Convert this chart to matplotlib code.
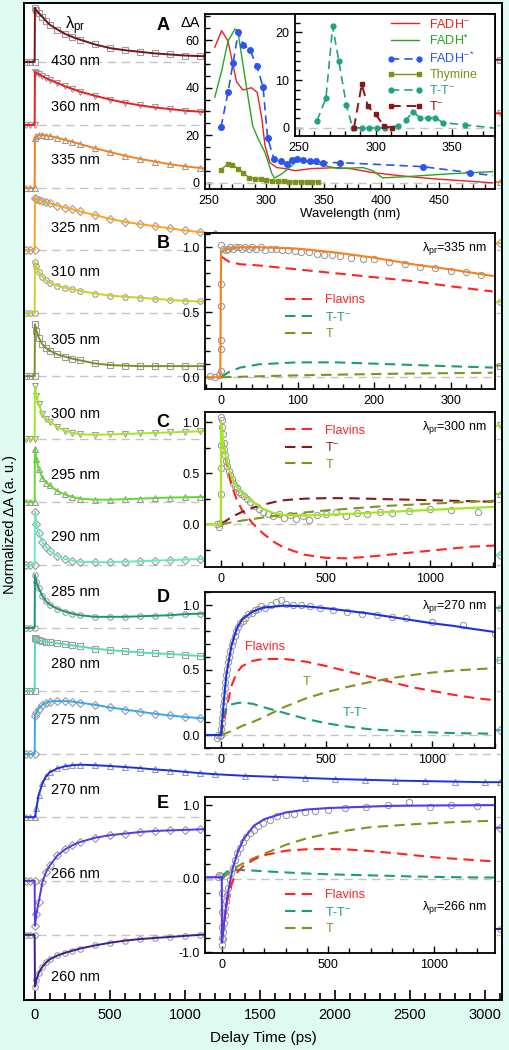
import matplotlib
matplotlib.use('Agg')

import numpy as np
import matplotlib.pyplot as plt
from matplotlib.lines import Line2D
from matplotlib.ticker import MultipleLocator

plt.rcParams['font.family'] = ['Liberation Sans', 'DejaVu Sans']
plt.rcParams['mathtext.fontset'] = 'custom'
plt.rcParams['mathtext.rm'] = 'Liberation Sans'
plt.rcParams['mathtext.it'] = 'Liberation Sans:italic'
plt.rcParams['mathtext.bf'] = 'Liberation Sans:bold'
plt.rcParams['axes.unicode_minus'] = False

# ---- main panel: normalized kinetic traces (fit values on a shared time grid)
t_main = [-60, -30, -2, 0, 10, 25, 50, 75, 100, 150, 200, 250, 300, 400, 500, 600,
          700, 800, 900, 1000, 1100, 1200, 1400, 1600, 1800, 2000, 2200, 2400,
          2600, 2800, 3000, 3100]
tr430 = [0, 0, 0, 1.02, 0.97, 0.92, 0.85, 0.77, 0.70, 0.61, 0.53, 0.47, 0.42, 0.33, 0.26,
         0.22, 0.19, 0.16, 0.14, 0.12, 0.11, 0.10, 0.09, 0.08, 0.07, 0.06, 0.06, 0.05,
         0.05, 0.04, 0.04, 0.04]
tr360 = [0, 0, 0, 1.0, 0.98, 0.96, 0.92, 0.88, 0.85, 0.79, 0.73, 0.68, 0.63, 0.55, 0.48,
         0.42, 0.37, 0.33, 0.30, 0.27, 0.25, 0.24, 0.23, 0.22, 0.22, 0.22, 0.22, 0.22,
         0.22, 0.22, 0.22, 0.22]
tr335 = [0, 0, 0, 0.95, 0.98, 1.0, 1.0, 0.99, 0.98, 0.95, 0.91, 0.87, 0.83, 0.75, 0.68,
         0.61, 0.55, 0.50, 0.45, 0.41, 0.38, 0.35, 0.30, 0.25, 0.22, 0.19, 0.17, 0.15,
         0.14, 0.13, 0.12, 0.11]
tr325 = [0, 0, 0, 0.98, 0.97, 0.95, 0.93, 0.90, 0.88, 0.84, 0.80, 0.77, 0.73, 0.66, 0.59,
         0.53, 0.49, 0.45, 0.41, 0.37, 0.34, 0.31, 0.27, 0.23, 0.20, 0.18, 0.16, 0.15,
         0.14, 0.13, 0.13, 0.13]
tr310 = [0, 0, 0, 0.96, 0.88, 0.78, 0.68, 0.62, 0.57, 0.52, 0.48, 0.45, 0.42, 0.37, 0.33,
         0.31, 0.29, 0.27, 0.25, 0.23, 0.22, 0.215, 0.21, 0.21, 0.21, 0.21, 0.21, 0.21,
         0.21, 0.21, 0.21, 0.21]
tr305 = [0, 0, 0, 0.98, 0.86, 0.73, 0.60, 0.53, 0.48, 0.41, 0.37, 0.33, 0.30, 0.24, 0.21,
         0.20, 0.19, 0.19, 0.19, 0.19, 0.19, 0.19, 0.19, 0.2, 0.2, 0.2, 0.2, 0.2,
         0.2, 0.2, 0.2, 0.2]
tr300 = [0, 0, 0, 1.0, 0.82, 0.66, 0.48, 0.39, 0.33, 0.23, 0.16, 0.12, 0.095, 0.085, 0.09,
         0.10, 0.11, 0.12, 0.13, 0.14, 0.15, 0.16, 0.17, 0.19, 0.20, 0.21, 0.22, 0.23,
         0.24, 0.25, 0.25, 0.26]
tr295 = [0, 0, 0, 1.0, 0.80, 0.62, 0.45, 0.36, 0.31, 0.20, 0.14, 0.09, 0.06, 0.04, 0.04,
         0.05, 0.06, 0.07, 0.08, 0.085, 0.09, 0.095, 0.10, 0.11, 0.12, 0.12, 0.13, 0.13,
         0.14, 0.14, 0.15, 0.15]
tr290 = [0, 0, 0, 1.0, 0.78, 0.60, 0.43, 0.33, 0.26, 0.17, 0.11, 0.08, 0.06, 0.05, 0.05,
         0.06, 0.07, 0.08, 0.09, 0.10, 0.11, 0.12, 0.13, 0.14, 0.15, 0.16, 0.17, 0.17,
         0.18, 0.18, 0.19, 0.19]
tr285 = [0, 0, 0, 1.0, 0.86, 0.75, 0.60, 0.50, 0.44, 0.36, 0.31, 0.27, 0.24, 0.21, 0.21,
         0.21, 0.22, 0.23, 0.24, 0.26, 0.27, 0.28, 0.29, 0.31, 0.32, 0.33, 0.34, 0.35,
         0.36, 0.37, 0.38, 0.38]
tr280 = [0, 0, 0, 1.0, 0.98, 0.96, 0.94, 0.93, 0.92, 0.90, 0.88, 0.86, 0.84, 0.80, 0.77,
         0.75, 0.73, 0.71, 0.70, 0.68, 0.66, 0.65, 0.63, 0.62, 0.61, 0.60, 0.60, 0.59,
         0.59, 0.58, 0.58, 0.58]
tr275 = [0, 0, 0, 0.72, 0.78, 0.86, 0.93, 0.97, 0.99, 1.0, 1.0, 0.99, 0.97, 0.93, 0.88,
         0.84, 0.80, 0.76, 0.73, 0.70, 0.68, 0.66, 0.62, 0.58, 0.55, 0.53, 0.51, 0.49,
         0.48, 0.47, 0.46, 0.45]
tr270 = [0, 0, 0, 0.0, 0.17, 0.42, 0.64, 0.77, 0.85, 0.92, 0.96, 0.98, 0.99, 0.98, 0.965,
         0.945, 0.925, 0.90, 0.88, 0.855, 0.83, 0.81, 0.78, 0.76, 0.74, 0.72, 0.705, 0.69,
         0.68, 0.67, 0.66, 0.66]
tr266 = [0, 0, 0, -0.85, -0.62, -0.40, -0.02, 0.17, 0.29, 0.48, 0.59, 0.67, 0.73, 0.81, 0.86,
         0.89, 0.92, 0.94, 0.95, 0.96, 0.97, 0.98, 0.99, 0.99, 1.0, 1.0, 1.0, 1.0,
         1.0, 1.0, 1.0, 1.0]
tr260 = [0, 0, 0, -0.98, -0.85, -0.72, -0.60, -0.52, -0.46, -0.39, -0.34, -0.30, -0.26, -0.20, -0.15,
         -0.11, -0.08, -0.06, -0.04, -0.02, 0.0, 0.01, 0.03, 0.05, 0.06, 0.07, 0.08, 0.09,
         0.10, 0.10, 0.11, 0.11]

probe_labels = ['430 nm', '360 nm', '335 nm', '325 nm', '310 nm', '305 nm', '300 nm', '295 nm',
                '290 nm', '285 nm', '280 nm', '275 nm', '270 nm', '266 nm', '260 nm']
offsets = [17.70, 16.51, 15.32, 14.15, 12.96, 11.77, 10.58, 9.40, 8.21, 7.02, 5.83, 4.64,
           3.45, 2.25, 1.23]
label_dy = [0.02, 0.34, 0.53, 0.42, 0.77, 0.68, 0.47, 0.51, 0.53, 0.68, 0.51, 0.64, 0.51, 0.13, -0.79]
trace_colors = ['#7a1414', '#ee1c1c', '#f7801e', '#ffa21c', '#cfcf22', '#7f8f26', '#a2e81e',
                '#5fdc2a', '#66ecb8', '#16977a', '#52e0a8', '#36a8f2', '#1c30e2', '#5a36e8', '#3e1c8c']
trace_markers = ['s', 'v', '^', 'D', 'o', 's', 'v', '^', 'D', 'o', 's', 'D', '^', 'D', 'o']

# ---- inset A: static spectra
fadhm_wl = [255, 261, 266.5, 274, 279.5, 287, 292, 296, 298.7, 303, 309, 316, 325, 339.5,
            362, 372.6, 392.6, 416, 445, 497]
fadhm = [57, 64, 59.6, 42.5, 39, 40, 38, 27, 15.7, 8.5, 6.4, 6, 5.1, 6, 6.4, 6, 4.3, 3, 1.7, 0]
fadhr_wl = [255, 261, 266.5, 272.6, 275, 279.5, 284, 288, 292.6, 298.7, 304.8, 307, 313.5,
            322, 327, 339.5, 362, 384, 392.6, 401, 422, 459.6, 497]
fadhr = [36, 47, 59.6, 64.7, 64, 50, 36, 24, 18.7, 12.8, 3.8, 2, 3.8, 7.2, 9.4, 8.5, 6,
         6.4, 5.1, 2.1, 2.6, 3.8, 4.7]
fadhx_wl = [260.4, 266.5, 271, 275.5, 280, 285.6, 291.7, 297, 301, 306.5, 312.6, 318, 322,
            327, 332, 338, 343, 349.6, 364, 436, 477, 497]
fadhx = [23.4, 38, 50.6, 63.4, 58, 56, 49, 40.4, 19, 10, 9, 8, 9.8, 10.2, 9.4, 9, 9, 8.5,
         8.5, 6.8, 4.3, 3.0]
thy_wl = [260.4, 266.5, 270, 275, 279.6, 285, 290, 295, 300, 305, 310, 315, 320, 325, 330,
          335, 340, 345]
thy = [5.5, 8, 7.7, 6, 4.3, 2.1, 1.7, 1.7, 1.3, 0.9, 0.7, 0.6, 0.5, 0.5, 0.5, 0.5, 0.5, 0.5]
tt_wl = [261.8, 267.6, 272, 276, 281, 285, 291, 296, 301, 306, 314.7, 320, 324.5, 329, 334,
         339, 344, 358.5, 377]
tt_spec = [1.5, 6.2, 21.2, 14, 4.7, 0, 0, 0, 0, 0, 0.4, 1.7, 3.4, 2.1, 2.1, 2.1, 1.1, 0.6, 0]
tm_wl = [285.9, 291, 295, 300, 305.6, 310.8]
tm_spec = [0, 9.1, 4.5, 2.8, 0.4, 0]

# ---- inset B (335 nm)
tB = [-20, -1, 0, 10, 25, 50, 100, 150, 200, 250, 300, 355]
b_fit = [0, 0, 0.97, 0.99, 1.0, 1.0, 0.99, 0.96, 0.92, 0.87, 0.83, 0.78]
tB_c = [0, 10, 25, 50, 100, 150, 200, 250, 300, 355]
b_flavins = [0.93, 0.89, 0.87, 0.86, 0.83, 0.80, 0.77, 0.74, 0.70, 0.66]
b_tt = [0, 0.04, 0.075, 0.10, 0.115, 0.115, 0.105, 0.095, 0.085, 0.075]
b_t = [0, 0.002, 0.004, 0.008, 0.015, 0.02, 0.025, 0.029, 0.032, 0.035]
b_dt = [-15, -8, -3, 0, 0, 0, 0, 0, 0, 3, 6, 9, 12, 15, 19, 23, 27, 31, 36, 41, 46, 52, 58,
        65, 72, 80, 88, 96, 105, 115, 125, 135, 145, 155, 170, 185, 200, 220, 240, 260, 280,
        300, 320, 340]
b_dv = [0.01, 0.0, 0.02, 0.05, 0.22, 0.29, 0.55, 0.72, 1.02, 0.99, 0.98, 0.99, 1.0, 0.99,
        1.0, 1.0, 0.99, 1.0, 0.99, 1.0, 0.99, 1.0, 0.98, 0.99, 0.99, 0.98, 0.98, 0.97, 0.96,
        0.96, 0.95, 0.94, 0.94, 0.93, 0.92, 0.91, 0.91, 0.89, 0.87, 0.85, 0.84, 0.82, 0.81, 0.79]

# ---- inset C (300 nm)
tC = [-70, -1, 0, 10, 25, 50, 75, 100, 150, 200, 250, 300, 400, 500, 600, 700, 800, 900,
      1000, 1100, 1200, 1310]
c_fit = [0, 0, 1.0, 0.80, 0.64, 0.46, 0.37, 0.31, 0.22, 0.15, 0.11, 0.09, 0.085, 0.09, 0.10,
         0.11, 0.12, 0.13, 0.14, 0.15, 0.16, 0.17]
tC_c = [0, 10, 25, 50, 75, 100, 150, 200, 250, 300, 400, 500, 600, 700, 800, 900, 1000,
        1100, 1200, 1310]
c_flavins = [0.98, 0.82, 0.62, 0.38, 0.24, 0.14, 0.01, -0.09, -0.17, -0.23, -0.30, -0.33,
             -0.335, -0.32, -0.30, -0.28, -0.26, -0.24, -0.22, -0.21]
c_tminus = [0, 0.015, 0.035, 0.07, 0.095, 0.12, 0.16, 0.19, 0.215, 0.235, 0.25, 0.255, 0.255,
            0.25, 0.245, 0.24, 0.235, 0.23, 0.225, 0.22]
c_t = [0, 0.004, 0.009, 0.018, 0.026, 0.035, 0.05, 0.065, 0.078, 0.09, 0.115, 0.135, 0.15,
       0.165, 0.18, 0.19, 0.20, 0.21, 0.22, 0.23]
c_dt = [-20, -12, -5, 0, 0, 0, 0, 2, 5, 8, 12, 16, 20, 25, 30, 36, 42, 50, 58, 66, 75, 85, 95,
        110, 125, 140, 160, 180, 200, 225, 250, 275, 300, 330, 360, 390, 420, 460, 500, 550,
        600, 650, 700, 760, 820, 900, 1000, 1100, 1230]
c_dv = [0.0, -0.03, 0.01, 0.3, 0.55, 0.78, 1.05, 1.02, 0.95, 0.88, 0.8, 0.74, 0.68, 0.62, 0.57,
        0.52, 0.48, 0.44, 0.4, 0.37, 0.35, 0.32, 0.3, 0.28, 0.25, 0.22, 0.18, 0.15, 0.12, 0.1,
        0.08, 0.1, 0.06, 0.09, 0.05, 0.08, 0.04, 0.09, 0.1, 0.12, 0.08, 0.11, 0.1, 0.12, 0.11,
        0.13, 0.15, 0.14, 0.12]

# ---- inset D (270 nm)
tD = [-70, -1, 0, 10, 25, 50, 75, 100, 150, 200, 300, 400, 500, 600, 700, 800, 900, 1000,
      1100, 1200, 1310]
d_fit = [0, 0, 0, 0.2, 0.46, 0.69, 0.82, 0.89, 0.95, 0.98, 0.995, 0.99, 0.975, 0.955, 0.935,
         0.91, 0.885, 0.86, 0.84, 0.815, 0.79]
tD_c = [0, 10, 25, 50, 75, 100, 150, 200, 300, 400, 500, 600, 700, 800, 900, 1000, 1100,
        1200, 1310]
d_flavins = [0, 0.09, 0.2, 0.38, 0.48, 0.53, 0.57, 0.585, 0.585, 0.565, 0.53, 0.49, 0.45,
             0.41, 0.37, 0.34, 0.31, 0.285, 0.265]
d_t = [0, 0.005, 0.015, 0.03, 0.05, 0.07, 0.1, 0.135, 0.215, 0.28, 0.33, 0.37, 0.405, 0.435,
       0.46, 0.48, 0.495, 0.505, 0.515]
d_tt = [0, 0.15, 0.2, 0.235, 0.245, 0.25, 0.24, 0.215, 0.17, 0.125, 0.09, 0.065, 0.045,
        0.035, 0.025, 0.02, 0.015, 0.012, 0.01]
d_dt = [-20, -12, -5, 0, 2, 4, 6, 8, 10, 12, 15, 18, 21, 25, 29, 33, 38, 44, 50, 57, 65, 73,
        82, 92, 102, 115, 130, 145, 160, 175, 190, 210, 235, 260, 285, 310, 340, 380, 420,
        470, 530, 600, 670, 740, 810, 880, 1000, 1150, 1300]
d_dv = [-0.02, 0.0, -0.01, 0.0, 0.05, 0.09, 0.13, 0.18, 0.22, 0.26, 0.31, 0.36, 0.41, 0.46,
        0.51, 0.56, 0.6, 0.65, 0.69, 0.72, 0.76, 0.8, 0.83, 0.86, 0.88, 0.9, 0.93, 0.94, 0.96,
        0.97, 0.99, 0.98, 1.0, 1.02, 1.04, 1.01, 1.0, 1.0, 0.99, 0.98, 0.96, 0.95, 0.93, 0.92,
        0.91, 0.9, 0.87, 0.85, 0.78]

# ---- inset E (266 nm)
tE = [-70, -1, 0, 5, 10, 25, 50, 75, 100, 150, 200, 300, 400, 500, 600, 700, 800, 1000, 1310]
e_fit = [0.02, 0.02, -0.87, -0.75, -0.6, -0.24, 0.14, 0.37, 0.53, 0.72, 0.81, 0.90, 0.94,
         0.96, 0.97, 0.98, 0.99, 0.995, 1.0]
tE_c = [0, 10, 25, 50, 75, 100, 150, 200, 300, 400, 500, 600, 700, 800, 900, 1000, 1100,
        1200, 1310]
e_flavins = [-0.8, -0.6, -0.3, -0.03, 0.1, 0.17, 0.26, 0.32, 0.38, 0.40, 0.405, 0.395, 0.375,
             0.35, 0.32, 0.29, 0.27, 0.25, 0.23]
e_t = [0, 0.03, 0.06, 0.12, 0.17, 0.21, 0.28, 0.34, 0.46, 0.55, 0.61, 0.66, 0.70, 0.72, 0.74,
       0.755, 0.77, 0.78, 0.79]
e_tt = [0, 0.06, 0.10, 0.12, 0.12, 0.115, 0.11, 0.10, 0.085, 0.07, 0.06, 0.052, 0.045, 0.038,
        0.03, 0.025, 0.02, 0.017, 0.015]
e_dt = [-20, -12, -5, 0, 0, 0, 0, 2, 4, 6, 9, 12, 16, 20, 25, 30, 36, 43, 50, 60, 72, 85, 100,
        115, 130, 150, 170, 195, 225, 260, 300, 340, 390, 440, 500, 580, 680, 780, 880, 980,
        1080, 1200]
e_dv = [0.02, 0.05, 0.04, -0.2, -0.45, -0.65, -0.8, -0.9, -0.82, -0.72, -0.6, -0.5, -0.4, -0.3,
        -0.22, -0.12, -0.02, 0.08, 0.15, 0.25, 0.35, 0.42, 0.5, 0.57, 0.62, 0.66, 0.72, 0.76,
        0.8, 0.85, 0.87, 0.88, 0.91, 0.92, 0.94, 0.96, 0.97, 1.0, 1.04, 0.98, 1.0, 0.99]

# colors for components
C_RED = '#ff2424'
C_TEAL = '#1c9c7c'
C_OLIVE = '#84921c'
C_DRED = '#861a1a'
GRAY = '#9c9c9c'
ZERO = '#c4c4c4'
DASH = (0, (5, 3))
LPR = r'λ$_{\rm pr}$'

W, H = 510, 1050
fig = plt.figure(figsize=(W / 100, H / 100), dpi=100, facecolor='#dffaf0')


def frac(x0, y0, x1, y1):
    """pixel box -> figure fraction rect"""
    return [x0 / W, 1 - y1 / H, (x1 - x0) / W, (y1 - y0) / H]


# ---------------- main axes
ax = fig.add_axes(frac(24, 3, 502, 1000))
ax.set_xlim(-73, 3113)
ax.set_ylim(0, 997 / 53)
for sp in ax.spines.values():
    sp.set_linewidth(1.4)
ax.set_yticks([])
ax.xaxis.set_major_locator(MultipleLocator(500))
ax.xaxis.set_minor_locator(MultipleLocator(100))
ax.tick_params(axis='x', which='major', direction='in', length=7, width=1.2, labelsize=10.5, pad=6)
ax.tick_params(axis='x', which='minor', direction='in', length=5, width=1.2)
ax.set_xlabel('Delay Time (ps)', fontsize=11, labelpad=6)

traces = [tr430, tr360, tr335, tr325, tr310, tr305, tr300, tr295, tr290, tr285, tr280,
          tr275, tr270, tr266, tr260]
for vals, off, col, mk, lab, dy in zip(traces, offsets, trace_colors, trace_markers,
                                       probe_labels, label_dy):
    y = off + np.array(vals)
    ax.axhline(off, color=ZERO, lw=1.0, ls=(0, (6, 4)), zorder=1)
    ax.plot(t_main, y, ls='none', marker=mk, ms=4, mfc='none', mec=GRAY, mew=0.8, zorder=2)
    ax.plot(t_main, y, color=col, lw=1.4, zorder=3)
    ax.text(107, off + dy, lab, fontsize=10.5, va='center', ha='left', zorder=4)

fig.text(75 / W, 1 - 26 / H, LPR, fontsize=12, ha='center', va='center')
fig.text(10 / W, 0.5, 'Normalized ΔA (a. u.)', rotation=90, fontsize=10.5,
         ha='center', va='center')

for letter, yp in zip('ABCDE', [25, 243, 422, 598, 803]):
    fig.text(163 / W, 1 - yp / H, letter, fontsize=13, fontweight='bold',
             ha='center', va='center')


def style_inset(a, xmaj, xmin, ymaj, ymin):
    a.set_facecolor('white')
    for sp in a.spines.values():
        sp.set_linewidth(1.3)
    a.xaxis.set_major_locator(MultipleLocator(xmaj))
    a.xaxis.set_minor_locator(MultipleLocator(xmin))
    a.yaxis.set_major_locator(MultipleLocator(ymaj))
    a.yaxis.set_minor_locator(MultipleLocator(ymin))
    a.tick_params(which='both', direction='in', width=1.0, labelsize=9, pad=4)
    a.tick_params(which='major', length=5)
    a.tick_params(which='minor', length=3.5)


def comp_legend(a, handles_spec, anchor):
    hs = [Line2D([], [], color=c, lw=1.5, ls=DASH) for c, _ in handles_spec]
    a.legend(hs, [l for _, l in handles_spec], loc='upper left', bbox_to_anchor=anchor,
             frameon=False, fontsize=9, handlelength=2.4, handletextpad=0.8,
             labelspacing=0.35, labelcolor='linecolor', borderaxespad=0)


# ---------------- inset A
aA = fig.add_axes(frac(205, 14, 495, 189))
style_inset(aA, 50, 10, 20, 5)
aA.set_xlim(246.5, 499)
aA.set_ylim(-2.6, 71)
aA.axhline(0, color=ZERO, lw=1.0, ls=(0, (6, 4)))
aA.plot(fadhm_wl, fadhm, color='#f02020', lw=1.0)
aA.plot(fadhr_wl, fadhr, color='#24a624', lw=1.0)
aA.plot(fadhx_wl, fadhx, color='#2a55ee', lw=1.2, ls=DASH, marker='o', ms=4,
        markevery=list(range(len(fadhx_wl) - 1)))
aA.plot(thy_wl, thy, color='#7f8f18', lw=1.0, marker='s', ms=3)
aA.set_xlabel('Wavelength (nm)', fontsize=9.5, labelpad=1)
fig.text(190 / W, 1 - 23 / H, 'ΔA', fontsize=10.5, ha='center', va='center')

aA2 = fig.add_axes(frac(295, 14, 495, 136))
style_inset(aA2, 50, 10, 10, 2)
aA2.set_xlim(247.4, 378)
aA2.set_ylim(-1.7, 23.8)
aA2.axhline(0, color=ZERO, lw=1.0, ls=(0, (6, 4)))
aA2.plot(tt_wl, tt_spec, color='#22a282', lw=1.2, ls=DASH, marker='o', ms=3.5,
         markevery=list(range(len(tt_wl) - 1)))
aA2.plot(tm_wl, tm_spec, color='#8a1616', lw=1.4, ls=DASH, marker='s', ms=3)
spec_handles = [
    Line2D([], [], color='#f02020', lw=1.0),
    Line2D([], [], color='#24a624', lw=1.0),
    Line2D([], [], color='#2a55ee', lw=1.2, ls=DASH, marker='o', ms=3.5),
    Line2D([], [], color='#7f8f18', lw=1.0, marker='s', ms=3),
    Line2D([], [], color='#22a282', lw=1.2, ls=DASH, marker='o', ms=3.5),
    Line2D([], [], color='#8a1616', lw=1.4, ls=DASH, marker='s', ms=3),
]
spec_labels = [r'FADH$^{-}$', 'FADH$^{•}$', r'FADH$^{-*}$', 'Thymine',
               r'T-T$^{-}$', r'T$^{-}$']
aA2.legend(spec_handles, spec_labels, loc='upper left', bbox_to_anchor=(0.44, 1.0),
           frameon=False, fontsize=9, handlelength=2.9, handletextpad=0.5, numpoints=2,
           labelspacing=0.25, labelcolor='linecolor', borderaxespad=0.1, borderpad=0.2)

# ---------------- inset B
aB = fig.add_axes(frac(205, 233, 495, 389))
style_inset(aB, 100, 20, 0.5, 0.1)
aB.set_xlim(-21, 358)
aB.set_ylim(-0.09, 1.11)
aB.axhline(0, color=ZERO, lw=1.0, ls=(0, (6, 4)))
aB.plot(b_dt, b_dv, ls='none', marker='o', ms=4.5, mfc='none', mec=GRAY, mew=0.8)
aB.plot(tB_c, b_flavins, color=C_RED, lw=1.5, ls=DASH)
aB.plot(tB_c, b_tt, color=C_TEAL, lw=1.5, ls=DASH)
aB.plot(tB_c, b_t, color=C_OLIVE, lw=1.5, ls=DASH)
aB.plot(tB, b_fit, color='#f7801e', lw=1.5)
aB.yaxis.set_major_formatter('{x:.1f}')
comp_legend(aB, [(C_RED, 'Flavins'), (C_TEAL, r'T-T$^{-}$'), (C_OLIVE, 'T')], (0.26, 0.64))
aB.text(0.97, 0.9, LPR + '=335 nm', transform=aB.transAxes, ha='right',
        va='center', fontsize=9)

# ---------------- inset C
aC = fig.add_axes(frac(205, 412, 495, 567))
style_inset(aC, 500, 100, 0.5, 0.25)
aC.set_xlim(-77, 1311)
aC.set_ylim(-0.42, 1.1)
aC.axhline(0, color=ZERO, lw=1.0, ls=(0, (6, 4)))
aC.plot(c_dt, c_dv, ls='none', marker='o', ms=4.5, mfc='none', mec=GRAY, mew=0.8)
aC.plot(tC_c, c_flavins, color=C_RED, lw=1.5, ls=DASH)
aC.plot(tC_c, c_tminus, color=C_DRED, lw=1.5, ls=DASH)
aC.plot(tC_c, c_t, color=C_OLIVE, lw=1.5, ls=DASH)
aC.plot(tC, c_fit, color='#a2e81e', lw=1.6)
aC.yaxis.set_major_formatter('{x:.1f}')
comp_legend(aC, [(C_RED, 'Flavins'), (C_DRED, r'T$^{-}$'), (C_OLIVE, 'T')], (0.26, 0.95))
aC.text(0.97, 0.9, LPR + '=300 nm', transform=aC.transAxes, ha='right',
        va='center', fontsize=9)

# ---------------- inset D
aD = fig.add_axes(frac(205, 592, 495, 748))
style_inset(aD, 500, 100, 0.5, 0.1)
aD.set_xlim(-76, 1300)
aD.set_ylim(-0.1, 1.1)
aD.axhline(0, color=ZERO, lw=1.0, ls=(0, (6, 4)))
aD.plot(d_dt, d_dv, ls='none', marker='o', ms=4.5, mfc='none', mec=GRAY, mew=0.8)
aD.plot(tD_c, d_flavins, color=C_RED, lw=1.5, ls=DASH)
aD.plot(tD_c, d_t, color=C_OLIVE, lw=1.5, ls=DASH)
aD.plot(tD_c, d_tt, color=C_TEAL, lw=1.5, ls=DASH)
aD.plot(tD, d_fit, color='#1c30e2', lw=1.5)
aD.yaxis.set_major_formatter('{x:.1f}')
aD.text(208, 0.68, 'Flavins', color=C_RED, fontsize=9, ha='center', va='center')
aD.text(408, 0.41, 'T', color=C_OLIVE, fontsize=9, ha='center', va='center')
aD.text(635, 0.17, r'T-T$^{-}$', color=C_TEAL, fontsize=9, ha='center', va='center')
aD.text(0.97, 0.91, LPR + '=270 nm', transform=aD.transAxes, ha='right',
        va='center', fontsize=9)

# ---------------- inset E
aE = fig.add_axes(frac(205, 797, 495, 953))
style_inset(aE, 500, 100, 1.0, 0.2)
aE.set_xlim(-80, 1285)
aE.set_ylim(-1.01, 1.11)
aE.axhline(0, color=ZERO, lw=1.0, ls=(0, (6, 4)))
aE.plot(e_dt, e_dv, ls='none', marker='o', ms=4.5, mfc='none', mec=GRAY, mew=0.8)
aE.plot(tE_c, e_t, color=C_OLIVE, lw=1.5, ls=DASH)
aE.plot(tE_c, e_tt, color=C_TEAL, lw=1.5, ls=DASH)
aE.plot(tE_c, e_flavins, color=C_RED, lw=1.5, ls=DASH)
aE.plot(tE, e_fit, color='#5a36e8', lw=1.5)
aE.yaxis.set_major_formatter('{x:.1f}')
comp_legend(aE, [(C_RED, 'Flavins'), (C_TEAL, r'T-T$^{-}$'), (C_OLIVE, 'T')], (0.26, 0.44))
aE.text(0.97, 0.29, LPR + '=266 nm', transform=aE.transAxes, ha='right',
        va='center', fontsize=9)

fig.savefig('out.png', dpi=100, facecolor=fig.get_facecolor())
